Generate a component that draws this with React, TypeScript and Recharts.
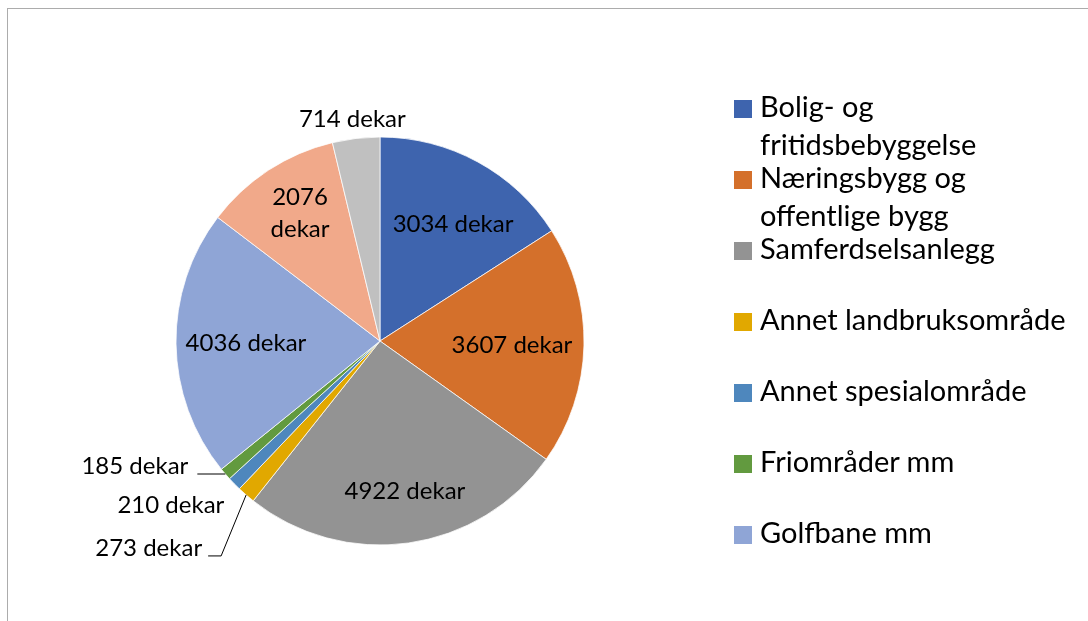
import { PieChart, Pie, Cell, Legend } from 'recharts'

// arealbruk, dekar
const categories = [
  'Bolig- og fritidsbebyggelse',
  'Næringsbygg og offentlige bygg',
  'Samferdselsanlegg',
  'Annet landbruksområde',
  'Annet spesialområde',
  'Friområder mm',
  'Golfbane mm',
  'Andre formål',
  'Øvrig',
]
const values = [3034, 3607, 4922, 273, 210, 185, 4036, 2076, 714]
const colors = [
  '#3E64AE', '#D4702B', '#939393', '#E1A800', '#4E87BD',
  '#629A3F', '#8FA5D6', '#F1A98A', '#C0C0C0',
]
// Excel cuts the legend after the 7th entry
const legendCount = 7
// legend text as Excel wraps it
const legendLines = [
  ['Bolig- og', 'fritidsbebyggelse'],
  ['Næringsbygg og', 'offentlige bygg'],
  ['Samferdselsanlegg'],
  ['Annet landbruksområde'],
  ['Annet spesialområde'],
  ['Friområder mm'],
  ['Golfbane mm'],
]

const data = categories.map((name, i) => ({ name, value: values[i] }))

const FONT = 'Lato, "Open Sans", sans-serif'
const LABEL_SIZE = 24
const RAD = Math.PI / 180
const W = 1072
const H = 605

// label placement: inside labels as radius factor + clockwise shift (deg),
// outside labels as offset from the slice edge, with optional leader line
type Spot =
  | { kind: 'in'; rf: number; shift: number; wrap?: boolean }
  | { kind: 'out'; dx: number; dy: number; line?: [number, number][] }

const spots: Spot[] = [
  { kind: 'in', rf: 0.684, shift: 2.9 },
  { kind: 'in', rf: 0.647, shift: -0.5 },
  { kind: 'in', rf: 0.736, shift: -1.5 },
  { kind: 'out', dx: -44, dy: 61, line: [[-25, 61], [-38, 61]] },
  { kind: 'out', dx: -10, dy: 29 },
  { kind: 'out', dx: -37, dy: 0, line: [[-28, 0]] },
  { kind: 'in', rf: 0.657, shift: 0.4 },
  { kind: 'in', rf: 0.748, shift: 1.5, wrap: true },
  { kind: 'in', rf: 1.106, shift: -0.3 },
]

function renderLabel(props: any) {
  const { cx, cy, midAngle, outerRadius, index, value } = props
  const spot = spots[index]
  const text = `${value} dekar`
  if (spot.kind === 'in') {
    const a = (midAngle - spot.shift) * RAD
    const r = outerRadius * spot.rf
    const x = cx + r * Math.cos(a)
    const y = cy - r * Math.sin(a)
    if (spot.wrap) {
      return (
        <g>
          <text x={x} y={y - 16} textAnchor="middle" dominantBaseline="central" fill="#000" fontSize={LABEL_SIZE} fontFamily={FONT}>
            {value}
          </text>
          <text x={x} y={y + 16} textAnchor="middle" dominantBaseline="central" fill="#000" fontSize={LABEL_SIZE} fontFamily={FONT}>
            dekar
          </text>
        </g>
      )
    }
    return (
      <text x={x} y={y} textAnchor="middle" dominantBaseline="central" fill="#000" fontSize={LABEL_SIZE} fontFamily={FONT}>
        {text}
      </text>
    )
  }
  const a = midAngle * RAD
  const ex = cx + outerRadius * Math.cos(a)
  const ey = cy - outerRadius * Math.sin(a)
  const pts = spot.line ? [[0, 0], ...spot.line] : null
  return (
    <g>
      {pts && (
        <polyline
          points={pts.map(([dx, dy]) => `${ex + dx},${ey + dy}`).join(' ')}
          fill="none"
          stroke="#000"
          strokeWidth={1}
        />
      )}
      <text x={ex + spot.dx} y={ey + spot.dy} textAnchor="end" fill="#000" fontSize={LABEL_SIZE} fontFamily={FONT}>
        {text}
      </text>
    </g>
  )
}

function LegendBox() {
  return (
    <div style={{ fontFamily: FONT, fontSize: 29, color: '#000' }}>
      {legendLines.slice(0, legendCount).map((lines, i) => (
        <div key={i} style={{ position: 'relative', height: 71 }}>
          <div
            style={{
              position: 'absolute', left: 0, top: 13, width: 18, height: 18,
              background: colors[i],
            }}
          />
          <div style={{ position: 'absolute', left: 26, top: 0, lineHeight: '38px', whiteSpace: 'nowrap' }}>
            {lines.map((l) => (
              <div key={l}>{l}</div>
            ))}
          </div>
        </div>
      ))}
    </div>
  )
}

export default function App() {
  return (
    <div style={{ width: W, height: H, background: '#fff', position: 'relative' }}>
      {/* chart area frame, cut at the right and bottom like the source */}
      <div
        style={{
          position: 'fixed', left: 7, top: 8, right: 0, bottom: 0,
          borderTop: '1px solid #acacac', borderLeft: '1px solid #acacac',
          pointerEvents: 'none',
        }}
      />
      <PieChart width={W} height={H} margin={{ top: 0, right: 0, bottom: 0, left: 0 }}>
        <Pie
          data={data}
          dataKey="value"
          nameKey="name"
          cx={372}
          cy={333}
          outerRadius={204}
          startAngle={90}
          endAngle={-270}
          stroke="#ffffff"
          strokeWidth={0.75}
          label={renderLabel}
          labelLine={false}
          isAnimationActive={false}
        >
          {data.map((d, i) => (
            <Cell key={d.name} fill={colors[i]} />
          ))}
        </Pie>
        <Legend
          layout="vertical"
          align="right"
          verticalAlign="top"
          content={() => <LegendBox />}
          wrapperStyle={{ position: 'absolute', left: 726, top: 79, width: 346 }}
        />
      </PieChart>
    </div>
  )
}
